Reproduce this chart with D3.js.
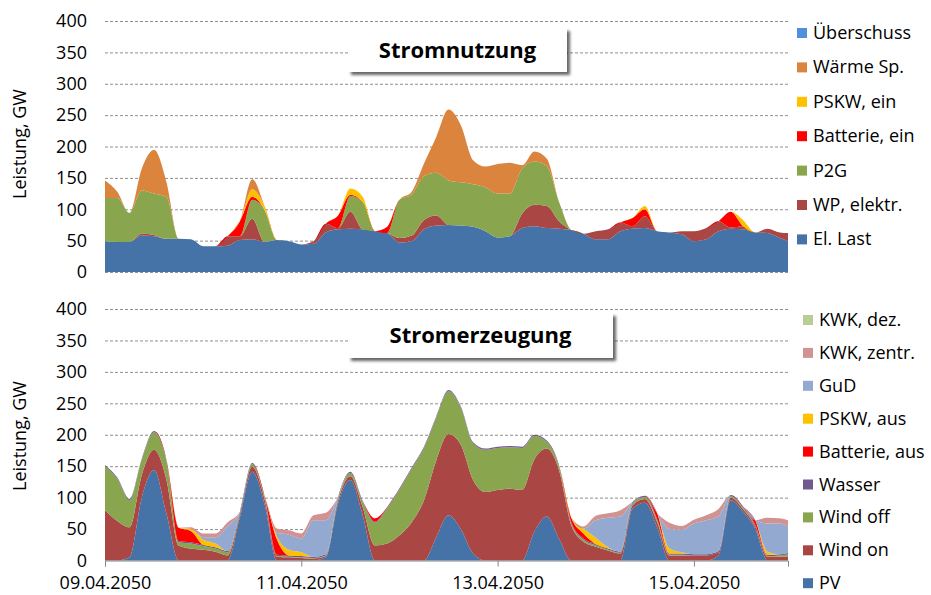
<!DOCTYPE html>
<html>
<head>
<meta charset="utf-8">
<script src="https://cdn.jsdelivr.net/npm/d3@7"></script>
<style>
  body { margin: 0; background: #fff; }
  text { font-family: "Open Sans", sans-serif; fill: #000; }
</style>
</head>
<body>
<div id="chart"></div>
<script>
// Stunden ab 09.04.2050 00:00 (3-h Raster)
var hours = [0,3,6,9,12,15,18,21,24,27,30,33,36,39,42,45,48,51,54,57,60,63,66,69,72,75,78,81,84,87,90,93,96,99,102,105,108,111,114,117,120,123,126,129,132,135,138,141,144,147,150,153,156,159,162,165,167];
var dateTicks = [0, 48, 96, 144];
var dateLabels = ["09.04.2050", "11.04.2050", "13.04.2050", "15.04.2050"];
var yTicks = [0, 50, 100, 150, 200, 250, 300, 350, 400];

// Stromnutzung (GW)
var elLast = [49,48,48,58,57,53,53,52,41,41, 42,51,52,48,51,49,44,45,63,68, 69,68,65,62,47,49,68,74,75,74, 72,65,55,57,70,73,70,69,67,61, 52,52,65,69,70,65,63,60,49,52, 65,69,68,63,62,54,49];
var wpElektr = [0,0,0,3,2,0,0,0,0,0, 15,6,33,0,0,0,0,4,14,2, 27,0,0,0,7,9,15,16,0,0, 0,0,0,0,23,34,35,12,0,0, 13,16,14,4,19,0,0,5,16,18, 16,2,5,0,7,9,13];
var p2g = [69,70,46,69,66,67,0,0,0,0, 0,0,30,51,0,0,0,0,0,0, 25,44,0,0,61,66,70,68,71,69, 68,70,70,68,72,69,64,31,0,0, 0,0,0,0,0,0,0,0,0,0, 0,0,0,0,0,0,0];
var batterieEin = [0,0,0,0,0,0,0,0,0,0, 0,24,5,0,0,0,0,0,0,20, 2,0,0,10,0,0,0,0,0,0, 0,0,0,0,0,0,0,0,0,0, 0,0,0,13,11,0,0,0,0,0, 0,25,0,0,0,0,0];
var pskwEin = [0,0,0,0,0,0,0,0,0,0, 0,0,12,6,0,0,0,0,0,0, 10,8,0,0,0,0,0,0,0,0, 0,0,0,0,0,0,0,0,0,0, 0,0,0,0,5,0,0,0,0,0, 0,0,10,0,0,0,0];
var waermeSp = [28,10,0,35,70,24,0,0,0,0, 0,0,16,0,0,0,0,0,0,0, 0,0,0,0,0,4,20,57,113,91, 38,33,47,49,5,16,12,0,0,0, 0,0,0,0,0,0,0,0,0,0, 0,0,0,0,0,0,0];
var ueberschuss = [0,0,0,0,0,0,0,0,0,0, 0,0,0,0,0,0,0,0,0,0, 0,0,0,0,0,0,0,0,0,0, 0,0,0,0,0,0,0,0,0,0, 0,0,0,0,0,0,0,0,0,0, 0,0,0,0,0,0,0];

// Stromerzeugung (GW)
var pv = [0,0,5,100,144,75,0,0,0,0, 0,69,141,90,0,0,0,0,5,91, 128,72,0,0,0,0,0,37,72,50, 11,0,0,0,0,46,70,35,0,0, 0,0,0,83,92,53,0,0,0,0, 8,96,78,50,0,0,0];
var windOn = [80,63,48,36,32,54,24,19,17,14, 8,5,8,8,6,5,4,3,2,5, 6,13,24,27,40,61,96,122,129,134, 117,109,112,114,112,115,108,109,56,30, 22,16,11,5,6,8,8,8,8,8, 5,4,4,4,6,6,6];
var windOff = [70,67,43,24,28,30,5,8,6,5, 5,2,4,3,1,1,1,1,1,3, 5,8,36,56,73,85,83,68,68,59, 58,67,67,66,67,37,11,6,3,3, 2,1,1,3,3,3,1,1,0,0, 0,2,2,1,1,2,4];
var wasser = [2,2,2,2,2,2,2,2,2,2, 2,2,2,2,2,2,2,2,2,2, 2,2,2,2,2,2,2,2,2,2, 2,2,2,2,2,2,2,2,2,2, 2,2,2,2,2,2,2,2,2,2, 2,2,2,2,2,2,2];
var batterieAus = [0,0,0,0,0,0,21,18,0,0, 0,0,0,0,25,0,0,0,0,0, 0,0,5,0,0,0,0,0,0,0, 0,0,0,0,0,0,0,0,7,8, 0,0,0,0,0,9,0,0,0,0, 0,0,0,7,0,0,0];
var pskwAus = [0,0,0,0,0,0,0,3,8,6, 0,0,0,0,5,9,6,0,0,0, 0,0,0,0,0,0,0,0,0,0, 0,0,0,0,0,0,0,0,0,8, 10,2,0,0,0,0,8,2,0,0, 0,0,0,0,5,0,0];
var gud = [0,0,0,0,0,0,0,0,4,10, 40,0,0,0,5,24,22,58,54,0, 0,0,0,0,0,0,0,0,0,0, 0,0,0,0,0,0,0,0,0,0, 28,47,56,0,0,0,31,36,49,54, 55,0,0,0,45,49,42];
var kwkZentr = [0,0,0,0,0,0,0,3,6,6, 6,0,0,0,7,7,8,8,12,0, 0,0,0,0,0,0,0,0,0,0, 0,0,0,0,0,0,0,0,0,3, 7,7,10,0,0,0,10,6,6,8, 12,0,0,0,9,8,10];
var kwkDez = [0,0,0,0,0,0,0,0,0,0, 0,0,0,0,0,0,0,0,0,0, 0,0,0,0,0,0,0,0,0,0, 0,0,0,0,0,0,0,0,0,0, 0,0,0,0,0,0,0,0,0,0, 0,0,0,0,0,0,0];

// series (stack order bottom -> top)
var topSeries = [
  { key: "El. Last", values: elLast, color: "#4572A7" },
  { key: "WP, elektr.", values: wpElektr, color: "#AA4643" },
  { key: "P2G", values: p2g, color: "#89A54E" },
  { key: "Batterie, ein", values: batterieEin, color: "#FF0000" },
  { key: "PSKW, ein", values: pskwEin, color: "#FFC000" },
  { key: "Wärme Sp.", values: waermeSp, color: "#DB843D" },
  { key: "Überschuss", values: ueberschuss, color: "#4F8FDB" }
];
var botSeries = [
  { key: "PV", values: pv, color: "#4572A7" },
  { key: "Wind on", values: windOn, color: "#AA4643" },
  { key: "Wind off", values: windOff, color: "#89A54E" },
  { key: "Wasser", values: wasser, color: "#71588F" },
  { key: "Batterie, aus", values: batterieAus, color: "#FF0000" },
  { key: "PSKW, aus", values: pskwAus, color: "#FFC000" },
  { key: "GuD", values: gud, color: "#93A9CF" },
  { key: "KWK, zentr.", values: kwkZentr, color: "#D19392" },
  { key: "KWK, dez.", values: kwkDez, color: "#B9CD96" }
];

var svgWidth = 931;
var svgHeight = 595;

var svg = d3.select("#chart")
  .append("svg")
  .attr("width", svgWidth)
  .attr("height", svgHeight);

var defs = svg.append("defs");
defs.append("filter")
  .attr("id", "shadow")
  .attr("x", "-10%").attr("y", "-20%")
  .attr("width", "130%").attr("height", "160%")
  .append("feDropShadow")
  .attr("dx", 3).attr("dy", 3)
  .attr("stdDeviation", 1.5)
  .attr("flood-color", "#000")
  .attr("flood-opacity", 0.6);

var xScale = d3.scaleLinear().domain([0, 167]).range([105, 788]);

function drawPanel(series, yRange, opts) {
  var yScale = d3.scaleLinear().domain([0, 400]).range(yRange);
  var g = svg.append("g");

  // gridlines
  var gridVals = opts.gridZero ? yTicks : yTicks.slice(1);
  g.append("g")
    .attr("transform", "translate(105,0)")
    .call(d3.axisLeft(yScale).tickValues(gridVals).tickSize(-683).tickFormat(""))
    .call(s => s.select(".domain").remove())
    .selectAll("line")
    .attr("stroke", "#8f8f8f")
    .attr("stroke-dasharray", "3,2");

  // stacked areas
  var rows = hours.map(function(h, i) {
    var r = { h: h };
    series.forEach(function(s) { r[s.key] = s.values[i]; });
    return r;
  });
  var stack = d3.stack().keys(series.map(s => s.key));
  var layers = stack(rows);
  var area = d3.area()
    .x(d => xScale(d.data.h))
    .y0(d => yScale(d[0]))
    .y1(d => yScale(d[1]))
    .curve(d3.curveMonotoneX);

  g.selectAll(".layer")
    .data(layers)
    .enter()
    .append("path")
    .attr("class", "layer")
    .attr("d", area)
    .attr("fill", (d, i) => series[i].color);

  // y axis labels
  g.append("g")
    .attr("transform", "translate(105,0)")
    .call(d3.axisLeft(yScale).tickValues(yTicks).tickSize(0).tickPadding(18))
    .call(s => s.select(".domain").remove())
    .selectAll("text")
    .style("font-size", "18px")
    .style("font-family", "'Open Sans', sans-serif")
    .attr("fill", "#000");

  // axis title
  g.append("text")
    .attr("transform", `translate(26, ${opts.titleY}) rotate(-90)`)
    .attr("text-anchor", "middle")
    .style("font-size", "18px")
    .text("Leistung, GW");

  // chart title box
  g.append("rect")
    .attr("x", 348).attr("y", opts.boxY)
    .attr("width", opts.boxW).attr("height", opts.boxH)
    .attr("fill", "#fff")
    .attr("filter", "url(#shadow)");
  g.append("text")
    .attr("x", 348 + opts.boxW / 2)
    .attr("y", opts.boxY + 30)
    .attr("text-anchor", "middle")
    .style("font-size", "22px")
    .style("font-weight", "bold")
    .text(opts.title);

  // legend (reverse stack order)
  var legendItems = series.slice().reverse();
  var lg = g.selectAll(".leg")
    .data(legendItems)
    .enter()
    .append("g")
    .attr("transform", (d, i) => `translate(${opts.legX}, ${opts.legY + i * opts.legStep})`);
  lg.append("rect")
    .attr("x", 0).attr("y", -5)
    .attr("width", 10).attr("height", 10)
    .attr("fill", d => d.color);
  lg.append("text")
    .attr("x", 16)
    .attr("y", 6)
    .style("font-size", "18px")
    .text(d => d.key);

  return yScale;
}

drawPanel(topSeries, [272, 21], {
  gridZero: true, titleY: 144,
  boxY: 28, boxW: 219, boxH: 44, title: "Stromnutzung",
  legX: 797, legY: 33, legStep: 34.4
});

var yBot = drawPanel(botSeries, [560.5, 309], {
  gridZero: false, titleY: 436,
  boxY: 313, boxW: 265, boxH: 45, title: "Stromerzeugung",
  legX: 803, legY: 320, legStep: 32.9
});

// x axis (bottom chart)
var xAxis = d3.axisBottom(xScale)
  .tickValues(dateTicks)
  .tickSize(6)
  .tickPadding(10)
  .tickFormat((d, i) => dateLabels[i]);

var xg = svg.append("g")
  .attr("transform", `translate(0, ${yBot(0)})`)
  .call(xAxis);
xg.select(".domain").attr("stroke", "#868686");
xg.selectAll("line").attr("stroke", "#868686");
xg.selectAll("text")
  .style("font-size", "18px")
  .style("font-family", "'Open Sans', sans-serif")
  .attr("fill", "#000");
</script>
</body>
</html>
